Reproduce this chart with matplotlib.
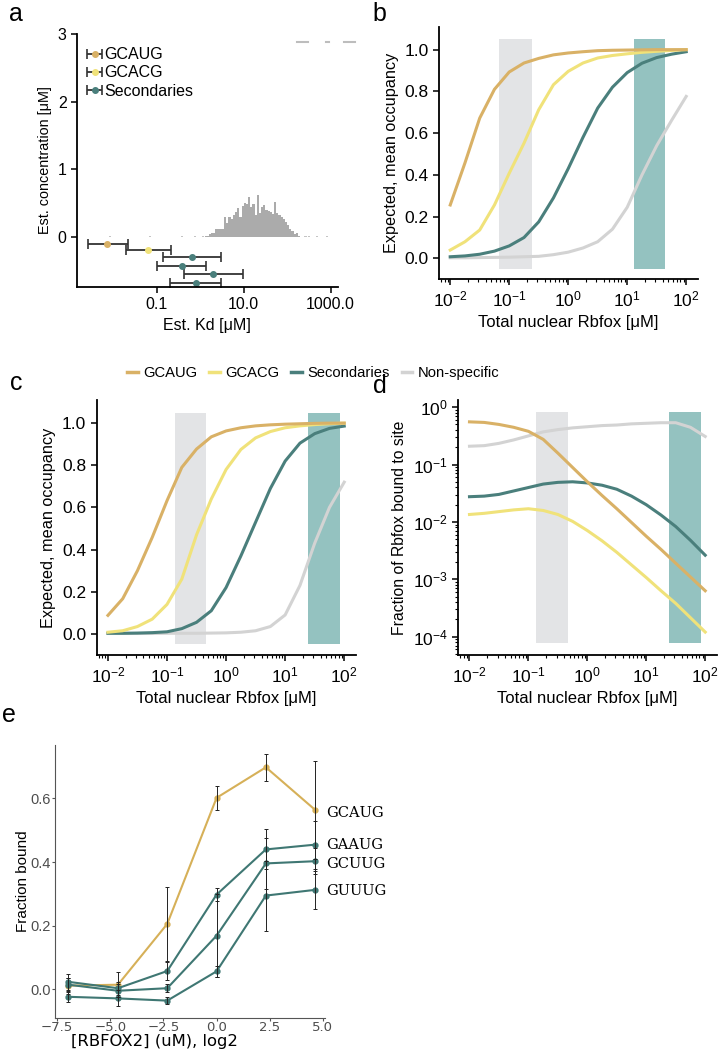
import numpy as np
import matplotlib
matplotlib.use("Agg")
import matplotlib.pyplot as plt
from matplotlib.lines import Line2D
from matplotlib.ticker import LogLocator, FixedLocator, FixedFormatter, NullFormatter

plt.rcParams['font.family'] = ['Liberation Sans', 'DejaVu Sans']
plt.rcParams['font.size'] = 10
plt.rcParams['axes.linewidth'] = 1.3
plt.rcParams['xtick.major.width'] = 1.1
plt.rcParams['ytick.major.width'] = 1.1
plt.rcParams['xtick.minor.width'] = 0.8
plt.rcParams['ytick.minor.width'] = 0.8

# colours
c_gcaug = '#D9B166'
c_gcacg = '#F0E27A'
c_sec = '#4A7F7C'
c_nonspec = '#D3D3D3'
c_band_grey = '#E3E4E6'
c_band_teal = '#94C2C0'

# ---- panel a: Kd estimates + concentration histogram
kd_gcaug = [0.0073]
kd_gcaug_lo = [0.0026]
kd_gcaug_hi = [0.0213]
y_gcaug = [-0.10]
kd_gcacg = [0.064]
kd_gcacg_lo = [0.019]
kd_gcacg_hi = [0.214]
y_gcacg = [-0.20]
kd_sec = [0.63, 0.38, 2.0, 0.80]
kd_sec_lo = [0.14, 0.103, 0.43, 0.203]
kd_sec_hi = [2.93, 1.37, 9.5, 3.04]
y_sec = [-0.30, -0.43, -0.55, -0.68]

# histogram of est. concentration, bins in log10 space
hist_log_start = 0.10
hist_log_width = 0.05
hist_heights = [0.02, 0.02, 0.05, 0.06, 0.06, 0.12, 0.11, 0.11, 0.12, 0.29,
                0.20, 0.30, 0.27, 0.32, 0.37, 0.42, 0.30, 0.46, 0.50, 0.49,
                0.59, 0.44, 0.48, 0.33, 0.62, 0.36, 0.44, 0.47, 0.40, 0.38,
                0.37, 0.34, 0.52, 0.35, 0.32, 0.30, 0.27, 0.22, 0.17, 0.11,
                0.08, 0.04, 0.06, 0.01]
hist_sparse_log = [-2.1, -1.19, -0.44, -0.15, 0.04, 2.40, 2.48, 2.67, 2.90]
hist_sparse_h = 0.015
a_xticks = [0.1, 10, 1000]
a_xticklabels = ['0.1', '10.0', '1000.0']

# ---- panels b/c/d: model curves, read at log10 steps of 0.25
conc_um = [0.01, 0.0178, 0.0316, 0.0562, 0.1, 0.178, 0.316, 0.562, 1.0,
           1.78, 3.16, 5.62, 10.0, 17.8, 31.6, 56.2, 100.0]

occ_b_gcaug = [0.256, 0.458, 0.672, 0.81, 0.893, 0.936, 0.958, 0.975, 0.984,
               0.99, 0.995, 0.997, 0.998, 0.999, 1.0, 1.0, 1.0]
occ_b_gcacg = [0.04, 0.08, 0.136, 0.256, 0.408, 0.552, 0.712, 0.832, 0.896,
               0.936, 0.96, 0.972, 0.98, 0.987, 0.992, 0.996, 1.0]
occ_b_sec = [0.008, 0.012, 0.02, 0.035, 0.06, 0.10, 0.175, 0.29, 0.43,
             0.58, 0.72, 0.82, 0.89, 0.935, 0.962, 0.978, 0.99]
occ_b_nonspec = [0.003, 0.003, 0.004, 0.005, 0.006, 0.008, 0.010, 0.018, 0.03,
                 0.05, 0.08, 0.14, 0.245, 0.40, 0.54, 0.66, 0.776]

occ_c_gcaug = [0.088, 0.167, 0.30, 0.458, 0.632, 0.79, 0.877, 0.935, 0.963,
               0.978, 0.987, 0.992, 0.995, 0.997, 0.999, 1.0, 1.0]
occ_c_gcacg = [0.008, 0.015, 0.035, 0.07, 0.14, 0.26, 0.47, 0.64, 0.78,
               0.875, 0.93, 0.96, 0.978, 0.987, 0.993, 0.997, 1.0]
occ_c_sec = [0.003, 0.003, 0.004, 0.006, 0.01, 0.025, 0.055, 0.11, 0.22,
             0.37, 0.53, 0.69, 0.82, 0.905, 0.95, 0.975, 0.986]
occ_c_nonspec = [0.002, 0.002, 0.002, 0.002, 0.003, 0.003, 0.003, 0.004, 0.005,
                 0.008, 0.015, 0.035, 0.09, 0.23, 0.43, 0.60, 0.72]

# fraction of Rbfox bound to site (log10 values)
frac_gcaug_log10 = [-0.255, -0.265, -0.30, -0.35, -0.42, -0.56, -0.80, -1.05, -1.30,
                    -1.54, -1.77, -2.01, -2.25, -2.48, -2.72, -2.96, -3.20]
frac_gcacg_log10 = [-1.87, -1.85, -1.82, -1.79, -1.77, -1.80, -1.87, -1.99, -2.15,
                    -2.33, -2.53, -2.75, -2.97, -3.20, -3.42, -3.67, -3.92]
frac_sec_log10 = [-1.56, -1.55, -1.52, -1.46, -1.40, -1.34, -1.31, -1.30, -1.32,
                  -1.36, -1.43, -1.55, -1.70, -1.88, -2.08, -2.32, -2.58]
frac_nonspec_log10 = [-0.68, -0.67, -0.63, -0.57, -0.50, -0.43, -0.39, -0.36, -0.34,
                      -0.32, -0.31, -0.29, -0.28, -0.27, -0.27, -0.35, -0.51]

band_b_grey = (0.067, 0.239)
band_b_teal = (12.8, 44.0)
band_cd_grey = (0.134, 0.465)
band_cd_teal = (24.3, 84.0)

# ---- panel e: measured fraction bound
rbfox2_log2 = [-6.97, -4.64, -2.32, 0.0, 2.32, 4.64]
e_names = ['GCAUG', 'GAAUG', 'GCUUG', 'GUUUG']
e_gcaug = [0.012, 0.015, 0.206, 0.602, 0.698, 0.564]
e_gcaug_err = [0.025, 0.04, 0.115, 0.037, 0.043, 0.155]
e_gaaug = [0.024, 0.004, 0.058, 0.298, 0.44, 0.455]
e_gaaug_err = [0.025, 0.02, 0.028, 0.02, 0.063, 0.075]
e_gcuug = [0.015, -0.004, 0.004, 0.169, 0.396, 0.403]
e_gcuug_err = [0.02, 0.02, 0.012, 0.13, 0.08, 0.04]
e_guuug = [-0.023, -0.028, -0.035, 0.057, 0.295, 0.313]
e_guuug_err = [0.015, 0.025, 0.01, 0.017, 0.11, 0.06]
e_label_y = [0.553, 0.455, 0.393, 0.309]

fig = plt.figure(figsize=(7.19, 10.5), dpi=100)


def clean(ax):
    ax.spines['top'].set_visible(False)
    ax.spines['right'].set_visible(False)


# ================= a
ax = fig.add_axes([0.107, 0.7267, 0.363, 0.241])
clean(ax)
ax.set_xscale('log')
lefts = [10 ** (hist_log_start + i * hist_log_width) for i in range(len(hist_heights))]
widths = [10 ** (hist_log_start + (i + 1) * hist_log_width) - lefts[i] for i in range(len(hist_heights))]
ax.bar(lefts, hist_heights, widths, align='edge', color='#ABABAB', linewidth=0)
sp_left = [10 ** v for v in hist_sparse_log]
sp_w = [10 ** (v + hist_log_width) - 10 ** v for v in hist_sparse_log]
ax.bar(sp_left, [hist_sparse_h] * len(sp_left), sp_w, align='edge', color='#C4C4C4', linewidth=0)

for kd, lo, hi, yy, col, lab in [(kd_gcaug, kd_gcaug_lo, kd_gcaug_hi, y_gcaug, c_gcaug, 'GCAUG'),
                                 (kd_gcacg, kd_gcacg_lo, kd_gcacg_hi, y_gcacg, c_gcacg, 'GCACG'),
                                 (kd_sec, kd_sec_lo, kd_sec_hi, y_sec, c_sec, 'Secondaries')]:
    kd = np.array(kd)
    xerr = [kd - np.array(lo), np.array(hi) - kd]
    ax.errorbar(kd, yy, xerr=xerr, fmt='o', color=col, ms=4, mec=col,
                ecolor='#333333', elinewidth=1.3, capsize=3.5, capthick=1.2, label=lab)
# faint dashes at the top right
for x0, x1 in [(2.23, 2.49), (2.90, 2.97), (3.32, 3.57)]:
    ax.plot([10 ** x0, 10 ** x1], [2.88, 2.88], color='#BDBDBD', lw=1.5, clip_on=False)

ax.set_xlim(10 ** -2.84, 10 ** 3.17)
ax.set_ylim(-0.74, 3.0)
ax.xaxis.set_major_locator(FixedLocator(a_xticks))
ax.xaxis.set_major_formatter(FixedFormatter(a_xticklabels))
ax.xaxis.set_minor_locator(FixedLocator([]))
ax.set_yticks([0, 1, 2, 3])
ax.tick_params(labelsize=11.5, length=4)
ax.set_xlabel('Est. Kd [μM]', fontsize=11.5)
ax.set_ylabel('Est. concentration [μM]', fontsize=10.4)
ax.legend(loc='upper left', frameon=False, fontsize=11.5, handlelength=1.0,
          handletextpad=0.1, labelspacing=0.2, borderaxespad=0.2,
          bbox_to_anchor=(0.0, 0.985))


def log_x(ax):
    ax.set_xscale('log')
    ax.set_xlim(10 ** -2.19, 10 ** 2.2)
    ax.xaxis.set_major_locator(LogLocator(base=10, numticks=10))
    ax.xaxis.set_minor_locator(LogLocator(base=10, subs=np.arange(2, 10), numticks=20))
    ax.xaxis.set_minor_formatter(NullFormatter())
    ax.tick_params(which='major', length=4, labelsize=12.5)
    ax.tick_params(which='minor', length=2.5)
    ax.set_xlabel('Total nuclear Rbfox [μM]', fontsize=12)


def occ_panel(ax, vals, grey, teal):
    clean(ax)
    log_x(ax)
    ax.fill_between(grey, -0.05, 1.05, color=c_band_grey, lw=0)
    ax.fill_between(teal, -0.05, 1.05, color=c_band_teal, lw=0)
    for v, col in zip(vals[::-1], [c_nonspec, c_sec, c_gcacg, c_gcaug]):
        ax.plot(conc_um, v, color=col, lw=2.2)
    ax.set_ylim(-0.1, 1.11)
    ax.set_yticks([0, 0.2, 0.4, 0.6, 0.8, 1.0])
    ax.set_ylabel('Expected, mean occupancy', fontsize=11.7)


# ================= b
ax = fig.add_axes([0.6106, 0.734, 0.3602, 0.2406])
occ_panel(ax, [occ_b_gcaug, occ_b_gcacg, occ_b_sec, occ_b_nonspec], band_b_grey, band_b_teal)

# ================= c
ax = fig.add_axes([0.1345, 0.3762, 0.3607, 0.2429])
occ_panel(ax, [occ_c_gcaug, occ_c_gcacg, occ_c_sec, occ_c_nonspec], band_cd_grey, band_cd_teal)

# ================= d
ax = fig.add_axes([0.6374, 0.3762, 0.3598, 0.2429])
clean(ax)
log_x(ax)
ax.set_yscale('log')
ax.fill_between(band_cd_grey, 7.8e-5, 0.84, color=c_band_grey, lw=0)
ax.fill_between(band_cd_teal, 7.8e-5, 0.84, color=c_band_teal, lw=0)
for v, col in [(frac_nonspec_log10, c_nonspec), (frac_sec_log10, c_sec),
               (frac_gcacg_log10, c_gcacg), (frac_gcaug_log10, c_gcaug)]:
    ax.plot(conc_um, 10 ** np.array(v), color=col, lw=2.2)
ax.set_ylim(10 ** -4.32, 10 ** 0.127)
ax.yaxis.set_major_locator(LogLocator(base=10, numticks=10))
ax.yaxis.set_minor_locator(LogLocator(base=10, subs=np.arange(2, 10), numticks=20))
ax.yaxis.set_minor_formatter(NullFormatter())
ax.tick_params(axis='y', which='major', length=4, labelsize=12.5)
ax.tick_params(axis='y', which='minor', length=2.5)
ax.set_ylabel('Fraction of Rbfox bound to site', fontsize=11.3)

# shared legend for c/d
handles = [Line2D([], [], color=c, lw=2.5) for c in [c_gcaug, c_gcacg, c_sec, c_nonspec]]
fig.legend(handles, ['GCAUG', 'GCACG', 'Secondaries', 'Non-specific'], ncol=4,
           loc='center', bbox_to_anchor=(0.436, 0.645), frameon=False, fontsize=10.6,
           handlelength=0.7, handletextpad=0.4, columnspacing=0.8)

# ================= e
ax = fig.add_axes([0.0765, 0.030952, 0.3755, 0.259524])
clean(ax)
for sp in ['left', 'bottom']:
    ax.spines[sp].set_color('#555555')
    ax.spines[sp].set_linewidth(0.8)
series_e = [(e_gcaug, e_gcaug_err, '#D6B058'), (e_gaaug, e_gaaug_err, '#3F7773'),
            (e_gcuug, e_gcuug_err, '#3F7773'), (e_guuug, e_guuug_err, '#3F7773')]
for vals, err, col in series_e:
    ax.plot(rbfox2_log2, vals, color=col, lw=1.5, marker='o', ms=3.5, zorder=2)
    ax.errorbar(rbfox2_log2, vals, yerr=err, fmt='none', ecolor='#222222',
                elinewidth=0.7, capsize=1.3, capthick=0.7, zorder=3)
for name, ly in zip(e_names, e_label_y):
    ax.annotate(name, xy=(rbfox2_log2[-1], ly), xytext=(8, 0), textcoords='offset points',
                va='center', ha='left', fontsize=10.5, family='DejaVu Serif',
                annotation_clip=False)
ax.set_xlim(-7.6, 5.1)
ax.set_ylim(-0.088, 0.768)
ax.set_xticks([-7.5, -5.0, -2.5, 0.0, 2.5, 5.0])
ax.set_yticks([0.0, 0.2, 0.4, 0.6])
ax.tick_params(colors='#555555', labelcolor='#4D4D4D', length=2, width=0.8, pad=0.8)
ax.tick_params(axis='y', labelsize=10.5)
ax.tick_params(axis='x', labelsize=9.5)
for t in ax.get_xticklabels():
    t.set_family('DejaVu Sans')
ax.set_xlabel('[RBFOX2] (uM), log2', fontsize=11.8, family='DejaVu Sans')
ax.xaxis.set_label_coords(0.37, -0.0606)
ax.set_ylabel('Fraction bound', fontsize=11)
ax.yaxis.set_label_coords(-0.093, 0.5)

# panel letters
for lab, x, y in [('a', 9, 21), ('b', 372, 21), ('c', 10, 390), ('d', 373, 393), ('e', 2, 722)]:
    fig.text(x / 719, 1 - y / 1050, lab, fontsize=18, va='baseline', ha='left')

fig.savefig('out.png', dpi=100)
